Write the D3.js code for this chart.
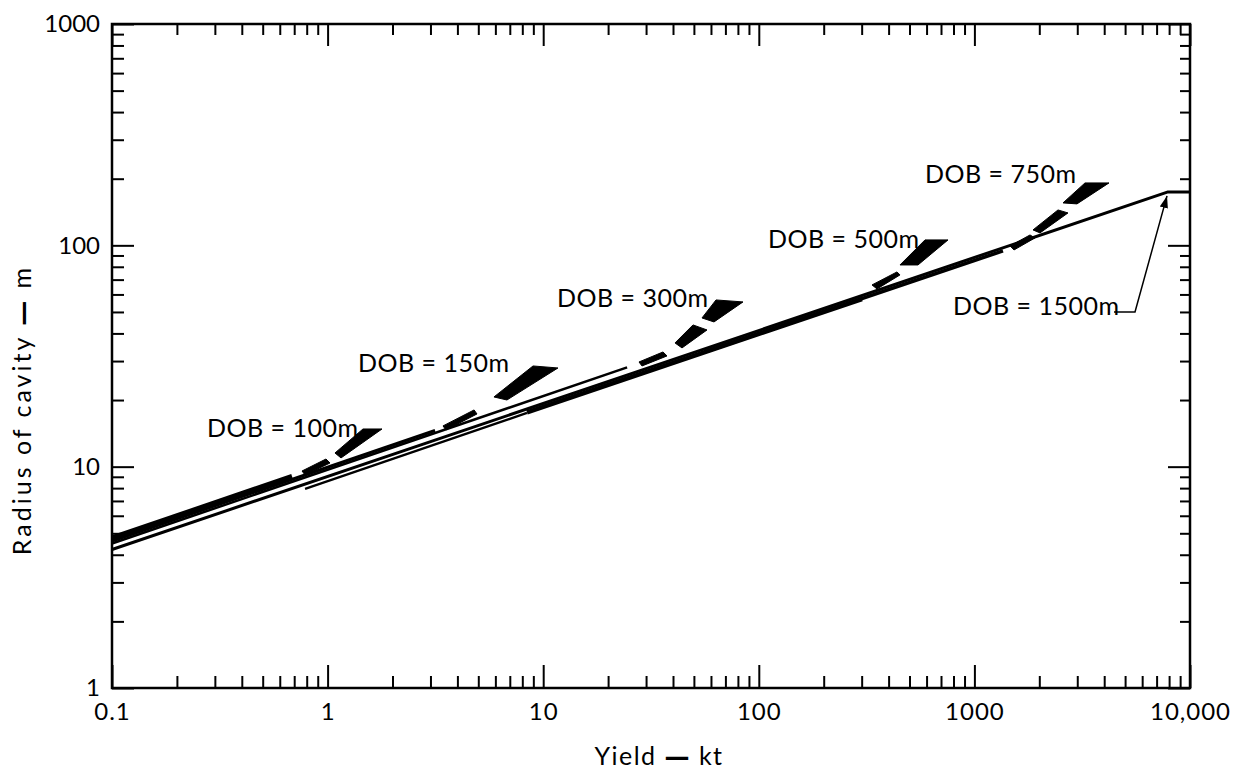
<!DOCTYPE html>
<html><head><meta charset="utf-8">
<script src="https://cdn.jsdelivr.net/npm/d3@7"></script>
<style>
body{margin:0;background:#fff}
svg{display:block}
text{font-family:Lato,"Noto Sans",sans-serif;fill:#000}
</style>
</head><body>
<svg id="c" width="1244" height="773"></svg>
<script>
// ---------- data ----------
const xMajorTicks = [0.1, 1, 10, 100, 1000, 10000];
const xTickLabels = ["0.1", "1", "10", "100", "1000", "10,000"];
const yMajorTicks = [1, 10, 100, 1000];
const yTickLabels = ["1", "10", "100", "1000"];

// solid cube-root lines: [yield kt, radius m]
const line100  = [[0.1, 4.762], [0.684, 9.04]];
const line150  = [[0.1, 4.616], [3.15, 14.57]];
const line300  = [[0.1, 4.498], [24.5, 28.10]];
const line1500 = [[0.1, 4.226], [7907, 174.3], [10000, 174.3]];
const lineLow  = [[0.786, 7.93], [8.41, 17.49]];
const line500  = [[8.41, 17.58], [301, 57.2]];
const line750  = [[56.3, 33.05], [1357, 94.4]];

// break-away dashes (filled quads) : [yield, radius]
const dashes100 = [
  [[0.761, 9.56], [0.983, 10.83], [1.026, 10.39], [0.786, 9.17]],
  [[1.082, 11.53], [1.459, 14.80], [1.788, 14.80], [1.154, 10.95]]
];
const dashes150 = [
  [[3.43, 15.28], [4.78, 18.04], [4.93, 17.30], [3.54, 14.65]],
  [[5.91, 20.65], [8.97, 28.51], [11.71, 27.92], [6.79, 20.01]]
];
const dashes300 = [
  [[27.82, 29.72], [35.95, 32.98], [37.52, 31.64], [28.72, 28.51]],
  [[40.87, 36.22], [49.53, 43.69], [57.51, 41.47], [44.04, 34.39]],
  [[54.52, 46.98], [63.33, 56.66], [84.48, 55.50], [61.98, 45.07]]
];
const dashes500 = [
  [[335.0, 66.24], [437.5, 75.83], [451.7, 73.50], [353.4, 63.53]],
  [[451.7, 81.53], [590.0, 105.8], [754.5, 105.8], [547.5, 81.53]]
];
const dashes750 = [
  [[1463, 99.38], [1811, 111.4], [1910, 108.0], [1527, 95.33]],
  [[1870, 117.4], [2442, 144.5], [2717, 140.1], [2015, 113.8]],
  [[2576, 155.5], [3258, 191.4], [4210, 191.4], [2991, 153.9]]
];

// labels
const labelTexts = ["DOB = 100m", "DOB = 150m", "DOB = 300m", "DOB = 500m", "DOB = 750m", "DOB = 1500m"];
const labelPos = [[0.2759, 13.62], [1.384, 26.79], [11.59, 52.67], [110.3, 97.34], [590.0, 191.4], [795.7, 48.5]];
const leader1500 = [[4440, 50.0], [5558, 50.0], [7823, 167.2]];

const xTitle = ["Yield ", "—", " kt"];
const yTitle = ["Radius of cavity ", "—", " m"];

// ---------- chart ----------
const svg = d3.select("#c");
const L = 112, R = 1190, T = 24, B = 688;
const x = d3.scaleLog().domain([0.1, 10000]).range([L, R]);
const y = d3.scaleLog().domain([1, 1000]).range([B, T]);

const minorX = [], minorY = [];
[0.1, 1, 10, 100, 1000].forEach(d => { for (let k = 2; k <= 9; k++) minorX.push(d * k); });
[1, 10, 100].forEach(d => { for (let k = 2; k <= 9; k++) minorY.push(d * k); });

function styleAxis(g) {
  g.select(".domain").remove();
  g.selectAll(".tick line").attr("stroke", "#000").attr("stroke-width", 2);
}

// bottom
svg.append("g").attr("transform", `translate(0,${B})`)
  .call(d3.axisBottom(x).tickValues(minorX).tickSize(-12).tickFormat(""))
  .call(styleAxis);
const bx = svg.append("g").attr("transform", `translate(0,${B})`)
  .call(d3.axisBottom(x).tickValues(xMajorTicks).tickSize(-23).tickPadding(15)
    .tickFormat((d, i) => xTickLabels[i]))
  .call(styleAxis);
bx.selectAll("text").attr("font-size", 24).attr("font-family", "Lato").attr("fill", "#000")
  .attr("letter-spacing", 1);
// top
svg.append("g").attr("transform", `translate(0,${T})`)
  .call(d3.axisTop(x).tickValues(minorX).tickSize(-11).tickFormat("")).call(styleAxis);
svg.append("g").attr("transform", `translate(0,${T})`)
  .call(d3.axisTop(x).tickValues(xMajorTicks).tickSize(-22).tickFormat("")).call(styleAxis);
// left
svg.append("g").attr("transform", `translate(${L},0)`)
  .call(d3.axisLeft(y).tickValues(minorY).tickSize(-12).tickFormat("")).call(styleAxis);
const ly = svg.append("g").attr("transform", `translate(${L},0)`)
  .call(d3.axisLeft(y).tickValues(yMajorTicks).tickSize(-22).tickPadding(12)
    .tickFormat((d, i) => yTickLabels[i]))
  .call(styleAxis);
ly.selectAll("text").attr("font-size", 24).attr("font-family", "Lato").attr("fill", "#000");
// right
svg.append("g").attr("transform", `translate(${R},0)`)
  .call(d3.axisRight(y).tickValues(minorY).tickSize(-10).tickFormat("")).call(styleAxis);
svg.append("g").attr("transform", `translate(${R},0)`)
  .call(d3.axisRight(y).tickValues(yMajorTicks).tickSize(-22).tickFormat("")).call(styleAxis);

// frame
svg.append("rect").attr("x", L).attr("y", T).attr("width", R - L).attr("height", B - T)
  .attr("fill", "none").attr("stroke", "#000").attr("stroke-width", 2.5);

// lines
const lg = d3.line().x(d => x(d[0])).y(d => y(d[1]));
const solid = [
  [line1500, 3], [lineLow, 2.3], [line500, 4.5], [line750, 3.5],
  [line300, 2.5], [line150, 3], [line100, 5]
];
solid.forEach(([pts, w]) => {
  svg.append("path").attr("d", lg(pts)).attr("fill", "none")
    .attr("stroke", "#000").attr("stroke-width", w).attr("stroke-linejoin", "round");
});

[dashes100, dashes150, dashes300, dashes500, dashes750].forEach(set => {
  set.forEach(q => {
    svg.append("path").attr("d", lg(q) + "Z").attr("fill", "#000")
      .attr("stroke", "#000").attr("stroke-width", 1);
  });
});

// labels
labelTexts.forEach((t, i) => {
  svg.append("text").attr("x", x(labelPos[i][0])).attr("y", y(labelPos[i][1]))
    .attr("font-size", 25).attr("letter-spacing", 0.5).text(t);
});

// leader with arrow
svg.append("defs").append("marker").attr("id", "arr")
  .attr("viewBox", "0 0 10 10").attr("refX", 10).attr("refY", 5)
  .attr("markerWidth", 12).attr("markerHeight", 12).attr("markerUnits", "userSpaceOnUse")
  .attr("orient", "auto")
  .append("path").attr("d", "M0,1.5 L10,5 L0,8.5 Z").attr("fill", "#000");
svg.append("path").attr("d", lg(leader1500)).attr("fill", "none")
  .attr("stroke", "#000").attr("stroke-width", 1.5).attr("marker-end", "url(#arr)");

// axis titles
function titled(sel, parts) {
  sel.append("tspan").text(parts[0]);
  sel.append("tspan").attr("font-family", "DejaVu Sans").attr("font-weight", "bold").text(parts[1]);
  sel.append("tspan").text(parts[2]);
}
titled(svg.append("text").attr("x", 659).attr("y", 765).attr("text-anchor", "middle")
  .attr("font-size", 25).attr("letter-spacing", 1.5), xTitle);
titled(svg.append("text").attr("transform", "translate(31,410) rotate(-90)")
  .attr("text-anchor", "middle").attr("font-size", 25).attr("letter-spacing", 3), yTitle);
</script>
</body></html>
